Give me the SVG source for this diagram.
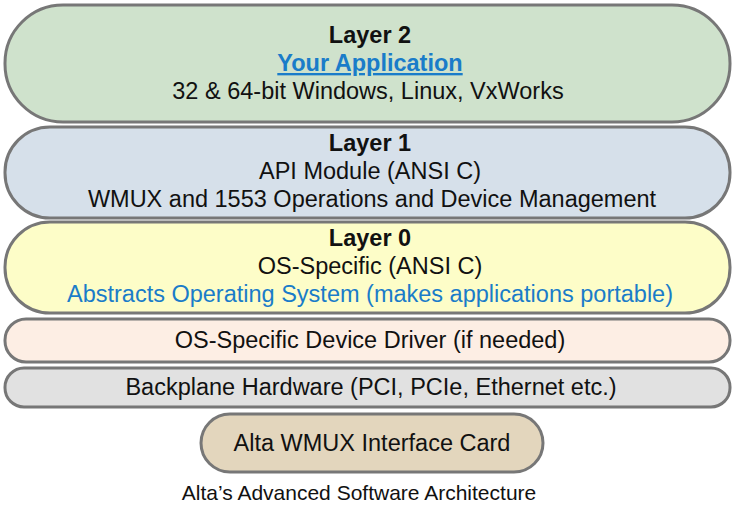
<svg xmlns="http://www.w3.org/2000/svg" width="735" height="510" viewBox="0 0 735 510">
<style>
.box{stroke:#777;stroke-width:3}
text{font-family:"Liberation Sans",Arial,sans-serif;font-size:23.5px;fill:#111;text-anchor:middle}
.b{font-weight:bold}
.blue{fill:#1a7cc9}
.cap{font-size:21px}
</style>
<rect width="735" height="510" fill="#fff"/>
<g id="layer2">
<rect class="box" x="5" y="5" width="725" height="117" rx="58" fill="#cfe2cc"/>
<text class="b" x="370" y="43">Layer 2</text>
<text class="b blue" x="370" y="71" text-decoration="underline">Your Application</text>
<text x="368" y="99">32 &amp; 64-bit Windows, Linux, VxWorks</text>
</g>
<g id="layer1">
<rect class="box" x="5" y="127" width="725" height="91" rx="45" fill="#d6e0ea"/>
<text class="b" x="370" y="151">Layer 1</text>
<text x="370" y="179">API Module (ANSI C)</text>
<text x="372" y="207">WMUX and 1553 Operations and Device Management</text>
</g>
<g id="layer0">
<rect class="box" x="5" y="222" width="725" height="91" rx="45" fill="#fdfdc8"/>
<text class="b" x="370" y="246">Layer 0</text>
<text x="370" y="274">OS-Specific (ANSI C)</text>
<text class="blue" x="370" y="302">Abstracts Operating System (makes applications portable)</text>
</g>
<g id="driver">
<rect class="box" x="5" y="319" width="725" height="43" rx="21" fill="#fdeee4"/>
<text x="370" y="348">OS-Specific Device Driver (if needed)</text>
</g>
<g id="backplane">
<rect class="box" x="5" y="368" width="725" height="39" rx="19" fill="#e1e1e1"/>
<text x="371" y="395">Backplane Hardware (PCI, PCIe, Ethernet etc.)</text>
</g>
<g id="card">
<rect class="box" x="201" y="414" width="342" height="58" rx="29" fill="#e3d6bd"/>
<text x="372" y="451">Alta WMUX Interface Card</text>
</g>
<g id="connectors"/>
<text class="cap" x="359" y="500">Alta’s Advanced Software Architecture</text>
</svg>
